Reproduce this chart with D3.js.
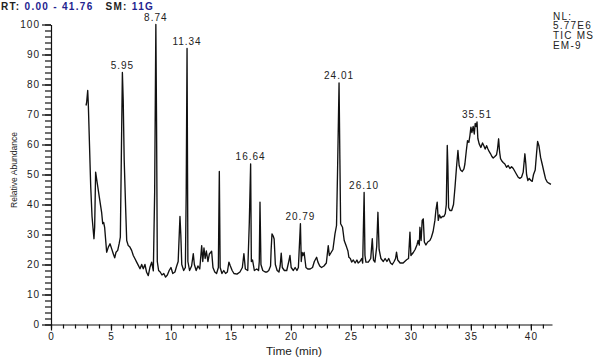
<!DOCTYPE html>
<html><head><meta charset="utf-8">
<script src="https://cdn.jsdelivr.net/npm/d3@7/dist/d3.min.js"></script>
<style>
html,body{margin:0;padding:0;background:#fff;}
svg{display:block;font-family:"Liberation Sans",Arial,Helvetica,sans-serif;}
</style></head>
<body>
<svg id="chart" width="600" height="359"></svg>
<script>
// ---- data ----
const rtRange = [0, 41.76];
const xMajorTicks = [0,5,10,15,20,25,30,35,40];
const yMajorTicks = [0,10,20,30,40,50,60,70,80,90,100];
const peakLabels = ["5.95","8.74","11.34","16.64","20.79","24.01","26.10","35.51"];
const headerInfo = ["NL:","5.77E6","TIC  MS","EM-9"];
const tracePoints = [
[2.92,73],[2.97,74],[3.06,78],[3.11,73.5],[3.31,46],[3.42,36],[3.58,28.6],[3.64,32.4],[3.72,50.8],[3.86,47],
[4.03,42.4],[4.22,37.4],[4.31,33.6],[4.39,34],[4.47,32.4],[4.56,28],[4.64,24.1],[4.78,25.8],[4.92,26.9],[5.06,25.2],
[5.19,23.6],[5.31,22.2],[5.42,24.1],[5.56,24.7],[5.69,27.1],[5.78,29.1],[5.86,55],[5.95,84],[6.02,74.7],[6.1,55],
[6.22,39],[6.31,28],[6.44,26.3],[6.58,25.8],[6.72,24.7],[6.86,23],[7.0,21.9],[7.14,20.8],[7.28,19.7],[7.42,18.6],
[7.56,20],[7.69,18.6],[7.83,20],[7.97,17.4],[8.11,16.3],[8.25,19.1],[8.39,20.8],[8.53,17.9],[8.64,44],[8.74,100],
[8.8,66],[8.86,21],[8.97,18],[9.1,17.5],[9.25,16.5],[9.4,17],[9.55,15.8],[9.7,16.5],[9.85,18],[10.0,19],
[10.15,17],[10.33,17.5],[10.47,19.4],[10.6,21],[10.75,36],[10.82,30],[10.9,20],[11.06,18],[11.2,19],[11.27,44],
[11.34,92],[11.41,21],[11.55,18],[11.72,19.5],[11.86,23.6],[11.95,20],[12.1,18],[12.25,19.5],[12.4,18.5],[12.56,26.3],
[12.65,21],[12.75,25.5],[12.85,22],[12.95,24.5],[13.08,21],[13.2,23.5],[13.39,24.4],[13.5,19],[13.65,17.5],[13.8,17],
[13.95,19],[14.03,51],[14.1,19],[14.25,17],[14.4,18],[14.55,17],[14.7,17.5],[14.83,20.8],[14.95,19.5],[15.1,18],
[15.25,17],[15.5,16.8],[15.75,17.5],[15.95,19],[16.08,23.6],[16.2,18.5],[16.4,18],[16.53,34],[16.64,53.5],[16.7,21],
[16.8,21.5],[16.95,18],[17.15,18.5],[17.3,18],[17.36,21],[17.42,40.8],[17.5,20],[17.65,18],[17.85,17.5],[18.0,17.5],
[18.15,18],[18.3,19.5],[18.35,25],[18.42,30.2],[18.52,29.5],[18.6,28.5],[18.7,20],[18.85,18],[19.0,17.5],[19.1,19.5],
[19.19,23.8],[19.28,19],[19.45,18],[19.65,18],[19.82,21],[19.92,23],[20.02,19],[20.2,18],[20.35,19],[20.5,18],
[20.62,19],[20.79,33.6],[20.86,21],[20.93,24],[21.0,23],[21.1,24],[21.25,19],[21.4,18.5],[21.6,18.5],[21.8,19],
[21.95,21],[22.14,22.4],[22.25,20.8],[22.4,19.5],[22.55,19],[22.75,19.5],[22.95,20.5],[23.11,26.3],[23.2,23],[23.35,24],
[23.5,25],[23.67,30.2],[23.8,33],[23.88,50],[24.01,80.5],[24.08,55],[24.14,33.6],[24.3,32.4],[24.44,28],[24.64,25.8],
[24.75,24.5],[24.83,22.4],[24.95,22],[25.06,20.8],[25.2,21.5],[25.35,20.5],[25.5,21.5],[25.6,20.5],[25.75,21],[25.9,22],
[25.98,20.5],[26.10,44],[26.17,23],[26.25,20.8],[26.45,20.8],[26.65,22],[26.78,28.6],[26.88,21.5],[27.0,20.8],[27.15,26],
[27.25,37.4],[27.35,25],[27.5,22],[27.6,21.5],[27.7,21],[27.85,22],[28.0,21],[28.15,22],[28.3,20.5],[28.45,20],
[28.6,21],[28.72,22],[28.8,24.1],[28.9,21.5],[29.1,20.5],[29.35,20.5],[29.64,21.6],[29.8,22],[29.92,30.8],[30.0,23],
[30.2,24],[30.35,25],[30.5,26.5],[30.6,28],[30.7,26.5],[30.75,32.4],[30.85,28],[30.94,34.7],[31.03,35.2],[31.12,27.5],
[31.25,26.5],[31.4,27.5],[31.58,28],[31.7,29],[31.85,31],[32.0,34.7],[32.08,38],[32.19,40.8],[32.28,34.7],[32.38,36.5],
[32.5,35.5],[32.62,36],[32.75,36],[32.86,36.9],[32.95,40],[33.03,59.7],[33.08,53],[33.14,39],[33.25,38],[33.4,38],
[33.55,40],[33.68,46],[33.8,52.4],[33.92,58],[34.02,53],[34.14,51.5],[34.28,51],[34.42,51.9],[34.5,53.5],[34.62,58],
[34.72,61.3],[34.83,60.7],[34.92,63],[35.0,65.8],[35.08,64],[35.19,66],[35.28,63.5],[35.36,67],[35.44,66],[35.51,67.5],
[35.58,62],[35.69,60.2],[35.83,59],[35.97,60.5],[36.08,59.6],[36.19,58.5],[36.31,59.6],[36.42,58.5],[36.53,57.6],[36.64,56.9],
[36.75,56],[36.86,55.5],[37.0,56],[37.14,56.6],[37.22,58.5],[37.31,61.9],[37.39,57.6],[37.47,55.3],[37.58,54.5],[37.69,54],
[37.83,53.5],[37.97,52.4],[38.11,53],[38.25,52],[38.39,52.6],[38.53,52],[38.67,51],[38.81,50],[38.94,49.1],[39.08,48.7],
[39.22,49.1],[39.36,50.8],[39.5,56.9],[39.58,53.5],[39.64,50],[39.75,48],[39.86,48.7],[40.0,48],[40.11,47.7],[40.22,50],
[40.36,51.5],[40.47,56.9],[40.56,61],[40.67,59.6],[40.81,55.7],[40.94,53.5],[41.08,51],[41.22,48.6],[41.36,47.5],[41.5,47.1],
[41.67,46.7]
];

// ---- layout ----
const svg = d3.select("#chart");
const x = d3.scaleLinear().domain(rtRange).range([51, 552]);
const y = d3.scaleLinear().domain([0, 100]).range([324.5, 24.5]);

const tickFont = "10px";
// x axis minor
const xMinor = d3.range(0, 42, 1);
svg.append("g").attr("transform", `translate(0,${y(0)})`)
  .call(d3.axisBottom(x).tickValues(xMinor).tickSize(4).tickFormat(""))
  .call(g => g.select(".domain").remove());
const gx = svg.append("g").attr("transform", `translate(0,${y(0)})`)
  .call(d3.axisBottom(x).tickValues(xMajorTicks).tickSize(6).tickSizeOuter(0).tickPadding(2).tickFormat(d3.format("d")));
gx.selectAll("text").attr("font-size", tickFont).attr("fill", "#222").style("letter-spacing", "1px");

// y axis minor
const yMinor = d3.range(0, 101, 2);
svg.append("g").attr("transform", `translate(${x(0)},0)`)
  .call(d3.axisLeft(y).tickValues(yMinor).tickSize(6).tickFormat(""))
  .call(g => g.select(".domain").remove());
const gy = svg.append("g").attr("transform", `translate(${x(0)},0)`)
  .call(d3.axisLeft(y).tickValues(yMajorTicks).tickSize(9).tickSizeOuter(0).tickPadding(2).tickFormat(d3.format("d")));
gy.selectAll("text").attr("font-size", tickFont).attr("fill", "#222").style("letter-spacing", "1px");
svg.selectAll(".domain, .tick line").attr("stroke", "#111").attr("stroke-width", 1.2);

// trace
const line = d3.line().x(d => x(d[0])).y(d => y(d[1]));
svg.append("path").datum(tracePoints)
  .attr("d", line).attr("fill", "none").attr("stroke", "#111")
  .attr("stroke-width", 1.35).attr("stroke-linejoin", "round");

// peak labels
peakLabels.forEach(lbl => {
  const pt = +lbl;
  const near = tracePoints.filter(p => Math.abs(p[0] - pt) <= 0.12);
  const top = d3.max(near, p => p[1]);
  svg.append("text").attr("x", x(pt)).attr("y", y(top) - 4)
    .attr("text-anchor", "middle").attr("font-size", "10px").attr("fill", "#222")
    .style("letter-spacing", "1px").text(lbl);
});

// axis titles
svg.append("text").attr("x", 294).attr("y", 355).attr("text-anchor", "middle")
  .attr("font-size", "11px").attr("fill", "#222")
  .attr("textLength", 56).attr("lengthAdjust", "spacingAndGlyphs").text("Time (min)");
svg.append("text").attr("transform", "translate(17,170) rotate(-90)").attr("text-anchor", "middle")
  .attr("font-size", "9.5px").attr("fill", "#222")
  .attr("textLength", 76).attr("lengthAdjust", "spacingAndGlyphs").text("Relative Abundance");

// header
const hdr = svg.append("text").attr("x", 1).attr("y", 9.5).attr("font-size", "10px")
  .attr("font-weight", "bold").style("letter-spacing", "1.3px");
hdr.append("tspan").attr("fill", "#222").text("RT: ");
hdr.append("tspan").attr("fill", "#23238f").text("0.00 - 41.76");
hdr.append("tspan").attr("fill", "#222").attr("dx", 12).text("SM: ");
hdr.append("tspan").attr("fill", "#23238f").text("11G");

headerInfo.forEach((t, i) => {
  svg.append("text").attr("x", 553).attr("y", 19.5 + i * 9.7)
    .attr("font-size", "10px").attr("fill", "#222").style("letter-spacing", "1.2px").text(t);
});
</script>
</body></html>
